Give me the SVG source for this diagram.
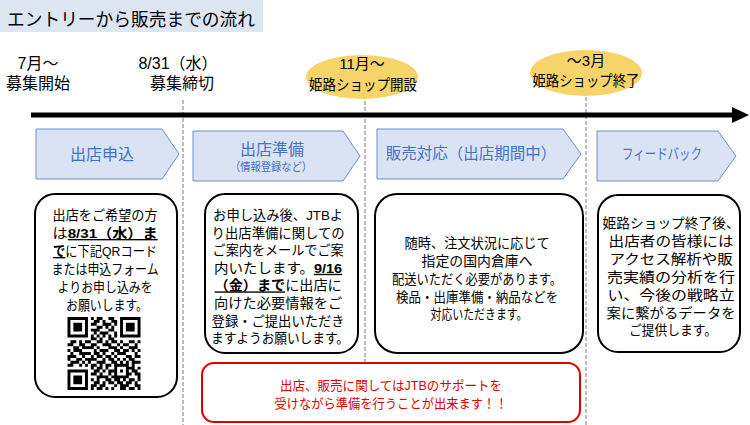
<svg xmlns="http://www.w3.org/2000/svg" width="750" height="425" viewBox="0 0 750 425">
<defs>
<style>
text{font-family:"Liberation Sans","Noto Sans CJK JP",sans-serif;fill:#000}
.lbl{font-size:16px;text-anchor:middle}
.ell{font-size:15px;text-anchor:middle}
.step{fill:#dae3f3;stroke:#6d8fc0;stroke-width:1}
.stxt{fill:#4472c4;text-anchor:middle}
.box{fill:#fff;stroke:#000;stroke-width:2}
.body{font-size:13.5px;text-anchor:middle}
.b{font-weight:bold;text-decoration:underline}
.dash{stroke:#a6a6a6;stroke-width:1.5;stroke-dasharray:4 2;fill:none}
.red{font-size:13px;text-anchor:middle;fill:#e00000}
</style>
</defs>
<rect width="750" height="425" fill="#fff"/>
<g id="title">
<rect x="0" y="0" width="263" height="32" fill="#dce6f2"/>
<text x="7" y="25.5" font-size="18" textLength="248" lengthAdjust="spacingAndGlyphs">エントリーから販売までの流れ</text>
</g>
<g id="connectors">
<line class="dash" x1="183" y1="100" x2="183" y2="425"/>
<line class="dash" x1="365" y1="95" x2="365" y2="362"/>
<line class="dash" x1="586" y1="97" x2="586" y2="425"/>
<rect x="31" y="112.5" width="703" height="5" fill="#000"/>
<polygon points="732,107 749,115 732,123" fill="#000"/>
</g>
<g id="m-start">
<text class="lbl"><tspan x="38" y="69">7月～</tspan><tspan x="38" y="89">募集開始</tspan></text>
</g>
<g id="m-deadline">
<text class="lbl"><tspan x="178" y="69">8/31（水）</tspan><tspan x="182" y="89">募集締切</tspan></text>
</g>
<g id="m-open">
<ellipse cx="362" cy="77" rx="56" ry="22" fill="#f6d46a"/>
<text class="ell"><tspan x="362" y="69">11月～</tspan><tspan x="363" y="90" textLength="108" lengthAdjust="spacingAndGlyphs">姫路ショップ開設</tspan></text>
</g>
<g id="m-end">
<ellipse cx="586" cy="73" rx="56" ry="23" fill="#f6d46a"/>
<text class="ell"><tspan x="586" y="66">～3月</tspan><tspan x="586" y="86" textLength="107" lengthAdjust="spacingAndGlyphs">姫路ショップ終了</tspan></text>
</g>
<g id="step1">
<polygon class="step" points="36,129 162,129 179,154 162,179 36,179"/>
<text class="stxt" x="102" y="160" font-size="16">出店申込</text>
</g>
<g id="step2">
<polygon class="step" points="193,131 343,131 360,156 343,181 193,181"/>
<text class="stxt"><tspan x="272" y="155" font-size="16">出店準備</tspan><tspan x="271" y="170.5" font-size="11.5" textLength="82" lengthAdjust="spacingAndGlyphs">（情報登録など）</tspan></text>
</g>
<g id="step3">
<polygon class="step" points="377,129 563,129 581,154 563,179 377,179"/>
<text class="stxt" x="471" y="159" font-size="15.5">販売対応（出店期間中）</text>
</g>
<g id="step4">
<polygon class="step" points="597,131 718,131 736,156 718,181 597,181"/>
<text class="stxt" x="662" y="159" font-size="15" textLength="80" lengthAdjust="spacingAndGlyphs">フィードバック</text>
</g>
<g id="box1">
<rect class="box" x="35" y="194" width="142" height="203" rx="20"/>
<text class="body">
<tspan x="107" y="220" textLength="105" lengthAdjust="spacingAndGlyphs">出店をご希望の方</tspan>
<tspan x="107" y="238" textLength="105" lengthAdjust="spacingAndGlyphs">は<tspan class="b">8/31（水）ま</tspan></tspan>
<tspan x="107" y="256" textLength="104" lengthAdjust="spacingAndGlyphs"><tspan class="b">で</tspan>に下記QRコード</tspan>
<tspan x="107" y="274" textLength="107" lengthAdjust="spacingAndGlyphs">または申込フォーム</tspan>
<tspan x="107" y="292" textLength="95" lengthAdjust="spacingAndGlyphs">よりお申し込みを</tspan>
<tspan x="107" y="310" textLength="82" lengthAdjust="spacingAndGlyphs">お願いします。</tspan>
</text>
<path transform="translate(67.5,317) scale(2.92)" stroke="#000" stroke-width="1" fill="none" d="M0 .5h7M8 .5h1M10 .5h2M14 .5h2M18 .5h7M0 1.5h1M6 1.5h1M9 1.5h2M12 1.5h1M15 1.5h2M18 1.5h1M24 1.5h1M0 2.5h1M2 2.5h3M6 2.5h1M8 2.5h2M12 2.5h3M16 2.5h1M18 2.5h1M20 2.5h3M24 2.5h1M0 3.5h1M2 3.5h3M6 3.5h1M10 3.5h2M13 3.5h1M15 3.5h1M18 3.5h1M20 3.5h3M24 3.5h1M0 4.5h1M2 4.5h3M6 4.5h1M8 4.5h3M14 4.5h2M18 4.5h1M20 4.5h3M24 4.5h1M0 5.5h1M6 5.5h1M9 5.5h1M11 5.5h3M16 5.5h1M18 5.5h1M24 5.5h1M0 6.5h7M8 6.5h1M10 6.5h1M12 6.5h1M14 6.5h1M16 6.5h1M18 6.5h7M8 7.5h2M11 7.5h1M14 7.5h2M1 8.5h2M4 8.5h1M6 8.5h2M10 8.5h2M13 8.5h1M15 8.5h2M18 8.5h1M21 8.5h2M24 8.5h1M0 9.5h2M4 9.5h2M8 9.5h2M12 9.5h3M17 9.5h1M19 9.5h2M23 9.5h1M2 10.5h2M5 10.5h4M10 10.5h1M14 10.5h3M18 10.5h1M21 10.5h3M0 11.5h1M2 11.5h3M9 11.5h1M11 11.5h3M16 11.5h2M19 11.5h2M22 11.5h1M24 11.5h1M1 12.5h1M4 12.5h4M9 12.5h2M12 12.5h1M15 12.5h1M17 12.5h3M23 12.5h1M0 13.5h3M5 13.5h1M8 13.5h1M10 13.5h2M13 13.5h2M16 13.5h1M20 13.5h2M23 13.5h2M0 14.5h1M3 14.5h2M6 14.5h4M12 14.5h1M14 14.5h2M17 14.5h1M19 14.5h1M21 14.5h2M1 15.5h3M5 15.5h1M7 15.5h1M10 15.5h3M15 15.5h2M18 15.5h1M20 15.5h1M22 15.5h3M0 16.5h2M4 16.5h1M6 16.5h1M8 16.5h2M11 16.5h1M13 16.5h2M16 16.5h5M22 16.5h1M8 17.5h1M10 17.5h2M13 17.5h1M16 17.5h1M20 17.5h3M24 17.5h1M0 18.5h7M9 18.5h2M12 18.5h1M14 18.5h3M18 18.5h1M20 18.5h1M22 18.5h2M0 19.5h1M6 19.5h1M8 19.5h2M11 19.5h1M14 19.5h1M16 19.5h1M20 19.5h2M23 19.5h2M0 20.5h1M2 20.5h3M6 20.5h1M10 20.5h4M15 20.5h6M24 20.5h1M0 21.5h1M2 21.5h3M6 21.5h1M8 21.5h1M10 21.5h1M13 21.5h2M16 21.5h2M19 21.5h1M21 21.5h2M24 21.5h1M0 22.5h1M2 22.5h3M6 22.5h1M9 22.5h2M12 22.5h1M14 22.5h2M17 22.5h2M20 22.5h2M23 22.5h1M0 23.5h1M6 23.5h1M8 23.5h2M11 23.5h2M16 23.5h1M18 23.5h3M23 23.5h2M0 24.5h7M8 24.5h1M10 24.5h2M13 24.5h1M15 24.5h1M18 24.5h2M21 24.5h2M24 24.5h1"/>
</g>
<g id="box2">
<rect class="box" x="205" y="194" width="153" height="159" rx="20"/>
<text class="body">
<tspan x="280" y="220" textLength="130" lengthAdjust="spacingAndGlyphs">お申し込み後、JTBよ</tspan>
<tspan x="280" y="237.6" textLength="133" lengthAdjust="spacingAndGlyphs">り出店準備に関しての</tspan>
<tspan x="280" y="255.2" textLength="131" lengthAdjust="spacingAndGlyphs">ご案内をメールでご案</tspan>
<tspan x="280" y="272.8" textLength="128" lengthAdjust="spacingAndGlyphs">内いたします。<tspan class="b">9/16</tspan></tspan>
<tspan x="280" y="290.4" textLength="127" lengthAdjust="spacingAndGlyphs"><tspan class="b">（金）まで</tspan>に出店に</tspan>
<tspan x="280" y="308" textLength="128" lengthAdjust="spacingAndGlyphs">向けた必要情報をご</tspan>
<tspan x="280" y="325.6" textLength="133" lengthAdjust="spacingAndGlyphs">登録・ご提出いただき</tspan>
<tspan x="280" y="343.2" textLength="138" lengthAdjust="spacingAndGlyphs">ますようお願いします。</tspan>
</text>
</g>
<g id="box3">
<rect class="box" x="375" y="194" width="208" height="159" rx="22"/>
<text class="body">
<tspan x="479" y="248" textLength="145" lengthAdjust="spacingAndGlyphs">随時、注文状況に応じて</tspan>
<tspan x="479" y="266" textLength="111" lengthAdjust="spacingAndGlyphs">指定の国内倉庫へ</tspan>
<tspan x="479" y="284" textLength="170" lengthAdjust="spacingAndGlyphs">配送いただく必要があります。</tspan>
<tspan x="479" y="302" textLength="162" lengthAdjust="spacingAndGlyphs">検品・出庫準備・納品などを</tspan>
<tspan x="479" y="319" textLength="97" lengthAdjust="spacingAndGlyphs">対応いただきます。</tspan>
</text>
</g>
<g id="box4">
<rect class="box" x="598" y="195" width="142" height="157" rx="20"/>
<text class="body">
<tspan x="673" y="228" textLength="137" lengthAdjust="spacingAndGlyphs">姫路ショップ終了後、</tspan>
<tspan x="673" y="246" textLength="125" lengthAdjust="spacingAndGlyphs">出店者の皆様には</tspan>
<tspan x="673" y="264" textLength="123" lengthAdjust="spacingAndGlyphs">アクセス解析や販</tspan>
<tspan x="673" y="282" textLength="128" lengthAdjust="spacingAndGlyphs">売実績の分析を行</tspan>
<tspan x="673" y="300" textLength="127" lengthAdjust="spacingAndGlyphs">い、今後の戦略立</tspan>
<tspan x="673" y="318" textLength="129" lengthAdjust="spacingAndGlyphs">案に繋がるデータを</tspan>
<tspan x="673" y="335" textLength="88" lengthAdjust="spacingAndGlyphs">ご提供します。</tspan>
</text>
</g>
<g id="note">
<rect x="202" y="363" width="378" height="59" rx="12" fill="#fff" stroke="#e00000" stroke-width="2"/>
<text class="red"><tspan x="391" y="390" textLength="222" lengthAdjust="spacingAndGlyphs">出店、販売に関してはJTBのサポートを</tspan><tspan x="391" y="408" textLength="233" lengthAdjust="spacingAndGlyphs">受けながら準備を行うことが出来ます！！</tspan></text>
</g>
</svg>
